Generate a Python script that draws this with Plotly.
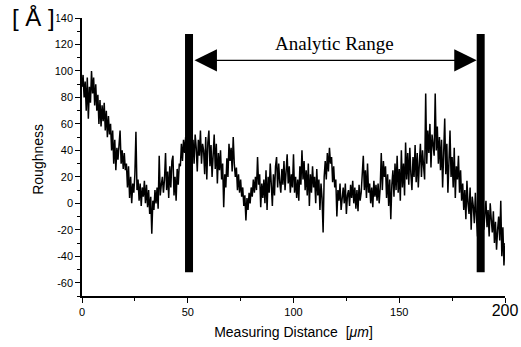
import plotly.graph_objects as go

# Measuring distance grid (µm) and roughness values (Å)
step = 0.5
roughness = [
    88, 97, 80, 92, 70, 95, 64, 88, 76, 100, 83, 95, 74, 90, 70, 82, 60, 78, 58, 74,
    62, 76, 55, 70, 50, 66, 52, 60, 40, 55, 30, 48, 25, 42, 33, 45, 55, 30, 40, 26,
    38, 25, 30, 12, 28, 4, 20, 0, 15, 8, 22, 54, 10, 18, 2, 15, -2, 12, 5, 17,
    0, 14, -3, 10, -8, 5, -23, 2, -5, 10, 0, 12, -4, 36, 6, 14, 20, 8, 18, 38,
    10, 24, 4, 28, 12, 32, 36, 6, 20, 2, 26, 14, 30, 28, 45, 32, 48, 38, 50, 42,
    54, 44, 40, 56, 38, 48, 30, 52, 42, 24, 48, 36, 55, 30, 45, 40, 22, 50, 18, 46,
    55, 28, 44, 20, 38, 52, 26, 45, 15, 38, 25, 40, 18, 30, -3, 22, 12, 34, 20, 45,
    32, 42, 24, 50, 30, 20, 27, 10, 22, 8, 18, 5, 12, -2, 6, -13, 4, -5, 8, 0,
    12, 5, 18, 8, 20, 10, 35, 14, 22, -3, 15, 4, 18, 0, 25, -5, 20, 8, 30, 12,
    -2, 22, 6, 28, 35, 12, 30, 16, 8, 26, 14, 32, 10, 24, 37, 15, 28, 8, 22, 12,
    37, 8, 20, 4, 18, 2, 28, 14, 40, 18, 32, 10, 25, 6, 30, -2, 22, 8, 28, 12,
    20, 0, 26, 6, 18, -5, 15, 4, -22, 20, 32, 18, 38, 24, 42, 30, 35, 16, 28, 12,
    18, -10, 10, 2, 15, -5, 8, 12, 0, 15, -8, 6, 10, -2, 14, 4, 17, 0, 12, -4,
    10, -6, 14, 2, 8, 20, 36, 10, 25, 4, 30, 8, 15, 0, 12, -3, 17, 5, 14, 2,
    15, 0, 12, 38, 10, 32, 20, 28, 4, 22, -2, 18, -12, 14, 25, 5, 30, 10, 36, 8,
    26, 2, 40, 12, 30, 6, 46, 18, 38, 14, 42, 22, 10, 35, 20, 44, 16, 38, 12, 30,
    45, 20, 40, 28, 18, 83, 30, 55, 38, 60, 27, 52, 44, 36, 83, 40, 58, 30, 50, 25,
    48, 12, 38, 64, 22, 45, 8, 40, 55, 20, 35, 12, 42, 4, 28, 18, 36, 8, 25, 2,
    15, -5, 10, -12, 17, 0, -8, 12, -20, 5, -2, -15, 8, -10, -25, 0, -30, -12, -38, -5,
    -20, -8, 2, -18, -5, -25, 0, -12, -22, -6, -30, -14, -35, -20, -10, -28, 2, -40, -18, -47,
    -30,
]
distance = [i * step for i in range(len(roughness))]

# Analytic range markers
range_bounds = [50.6, 188.5]
range_marker_y = [-52, 128]
arrow_y = 108
range_label = "Analytic Range"

y_tickvals = [140, 120, 100, 80, 60, 40, 20, 0, -20, -40, -60]
y_ticktext = ["140", "120", "100", "80", "60", "40", "20", "0", "-20", "-40", "-60"]
x_tickvals = [0, 50, 100, 150, 200]
x_ticktext = ["0", "50", "100", "150", "<span style='font-size:16px'>200</span>"]

fig = go.Figure()
fig.add_trace(go.Scatter(
    x=distance, y=roughness, mode="lines",
    line=dict(color="black", width=1.5), showlegend=False, hoverinfo="skip"))

for xb in range_bounds:
    fig.add_trace(go.Scatter(
        x=[xb, xb], y=range_marker_y, mode="lines",
        line=dict(color="black", width=8), showlegend=False, hoverinfo="skip"))

fig.add_annotation(
    x=range_bounds[1], y=arrow_y, ax=range_bounds[0], ay=arrow_y,
    xref="x", yref="y", axref="x", ayref="y", text="",
    showarrow=True, arrowside="end+start", arrowhead=2, startarrowhead=2,
    arrowsize=3.2, startarrowsize=3.2, arrowwidth=1.4, arrowcolor="black",
    standoff=4, startstandoff=4)

fig.add_annotation(
    x=(range_bounds[0] + range_bounds[1]) / 2, y=121, xref="x", yref="y",
    text=range_label, showarrow=False,
    font=dict(family="Liberation Serif, Times New Roman, serif", size=19, color="black"))

fig.add_annotation(
    x=0.0, y=1.0, xref="paper", yref="paper", xanchor="right", yanchor="middle",
    xshift=-25, yshift=1, text="[ Å ]", showarrow=False, bgcolor="white",
    font=dict(family="Liberation Sans, Arial, sans-serif", size=24, color="black"))

fig.add_annotation(
    x=0.0, y=0.49, xref="paper", yref="paper", xanchor="center", yanchor="middle",
    xshift=-44, text="Roughness", textangle=-90, showarrow=False,
    font=dict(family="Liberation Sans, Arial, sans-serif", size=14, color="black"))

fig.update_layout(
    width=521, height=347,
    margin=dict(l=82, r=16, t=18, b=51),
    paper_bgcolor="white", plot_bgcolor="white",
    font=dict(family="Liberation Sans, Arial, sans-serif", color="black", size=11),
    xaxis=dict(
        range=[0, 200], showgrid=False, zeroline=False, automargin=False,
        showline=True, linecolor="black", linewidth=1.5,
        ticks="outside", ticklen=5, tickwidth=1.2, tickcolor="black",
        tickvals=x_tickvals, ticktext=x_ticktext,
        minor=dict(dtick=25, ticks="outside", ticklen=3, tickcolor="black", showgrid=False),
        title=dict(text="Measuring Distance  [<i>μm</i>]", font=dict(size=14), standoff=9),
    ),
    yaxis=dict(
        range=[-70, 140], showgrid=False, zeroline=False, automargin=False,
        showline=True, linecolor="black", linewidth=1.5,
        ticks="outside", ticklen=5, tickwidth=1.2, tickcolor="black",
        tickvals=y_tickvals, ticktext=y_ticktext,
        minor=dict(dtick=10, ticks="outside", ticklen=3, tickcolor="black", showgrid=False),
    ),
)

fig.write_html("out.html")
